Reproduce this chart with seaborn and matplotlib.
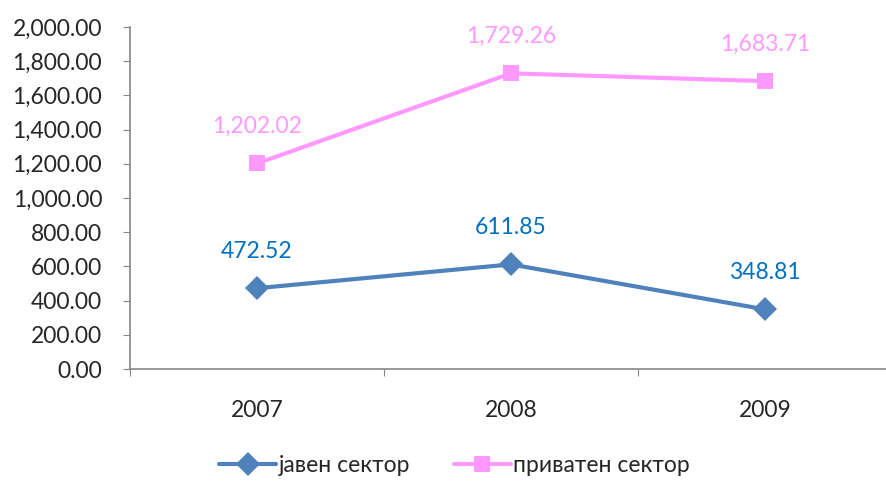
import matplotlib
matplotlib.use("Agg")
import matplotlib.pyplot as plt
import seaborn as sns
import pandas as pd

years = ["2007", "2008", "2009"]
javen = [472.52, 611.85, 348.81]
privaten = [1202.02, 1729.26, 1683.71]
series_names = ["јавен сектор", "приватен сектор"]
yticks = [0, 200, 400, 600, 800, 1000, 1200, 1400, 1600, 1800, 2000]

sns.set_style("white")
plt.rcParams['font.family'] = ['Lato', 'DejaVu Sans']
FS = 16.5

df = pd.DataFrame({
    "year": years * 2,
    "x": list(range(len(years))) * 2,
    "value": javen + privaten,
    "series": [series_names[0]] * 3 + [series_names[1]] * 3,
})

line_colors = {series_names[0]: "#4F81BD", series_names[1]: "#FF99FF"}
label_colors = {series_names[0]: "#0070C0", series_names[1]: "#FF99FF"}
markers = {series_names[0]: "D", series_names[1]: "s"}

fig = plt.figure(figsize=(8.86, 4.92), dpi=100)
ax = fig.add_axes([0.1467, 0.25, 0.86, 0.695])

sns.lineplot(data=df, x="x", y="value", hue="series", style="series",
             markers=markers, dashes=False, palette=line_colors,
             linewidth=3, markersize=12, markeredgewidth=0, ax=ax, legend=True)

for _, r in df.iterrows():
    ax.annotate(f"{r['value']:,.2f}", (r["x"], r["value"]), xytext=(0, 19),
                textcoords="offset points", ha="center", va="bottom",
                color=label_colors[r["series"]], fontsize=FS)

ax.set_xlim(-0.5, 2.5)
ax.set_ylim(0, 2000)
ax.set_yticks(yticks)
ax.set_yticklabels([f"{v:,.2f}" for v in yticks], fontsize=FS)
ax.set_xticks([-0.5, 0.5, 1.5, 2.5])
ax.set_xticklabels([])
ax.set_xticks(range(len(years)), minor=True)
ax.set_xticklabels(years, minor=True, fontsize=FS)
ax.tick_params(axis="x", which="minor", length=0, pad=22)
ax.tick_params(axis="x", which="major", length=5, direction="out", color="#868686", bottom=True)
ax.tick_params(axis="y", length=5, direction="out", color="#868686", left=True, pad=15)
for s in ["top", "right"]:
    ax.spines[s].set_visible(False)
for s in ["left", "bottom"]:
    ax.spines[s].set_color("#868686")
    ax.spines[s].set_linewidth(1.2)
ax.set_xlabel("")
ax.set_ylabel("")

h, l = ax.get_legend_handles_labels()
ax.legend(h, l, loc="lower center", bbox_to_anchor=(0.513, -0.01),
          bbox_transform=fig.transFigure, ncol=2, frameon=False, fontsize=FS,
          handlelength=2.5, columnspacing=1.9, handletextpad=0.1)

fig.savefig("out.png", dpi=100)
